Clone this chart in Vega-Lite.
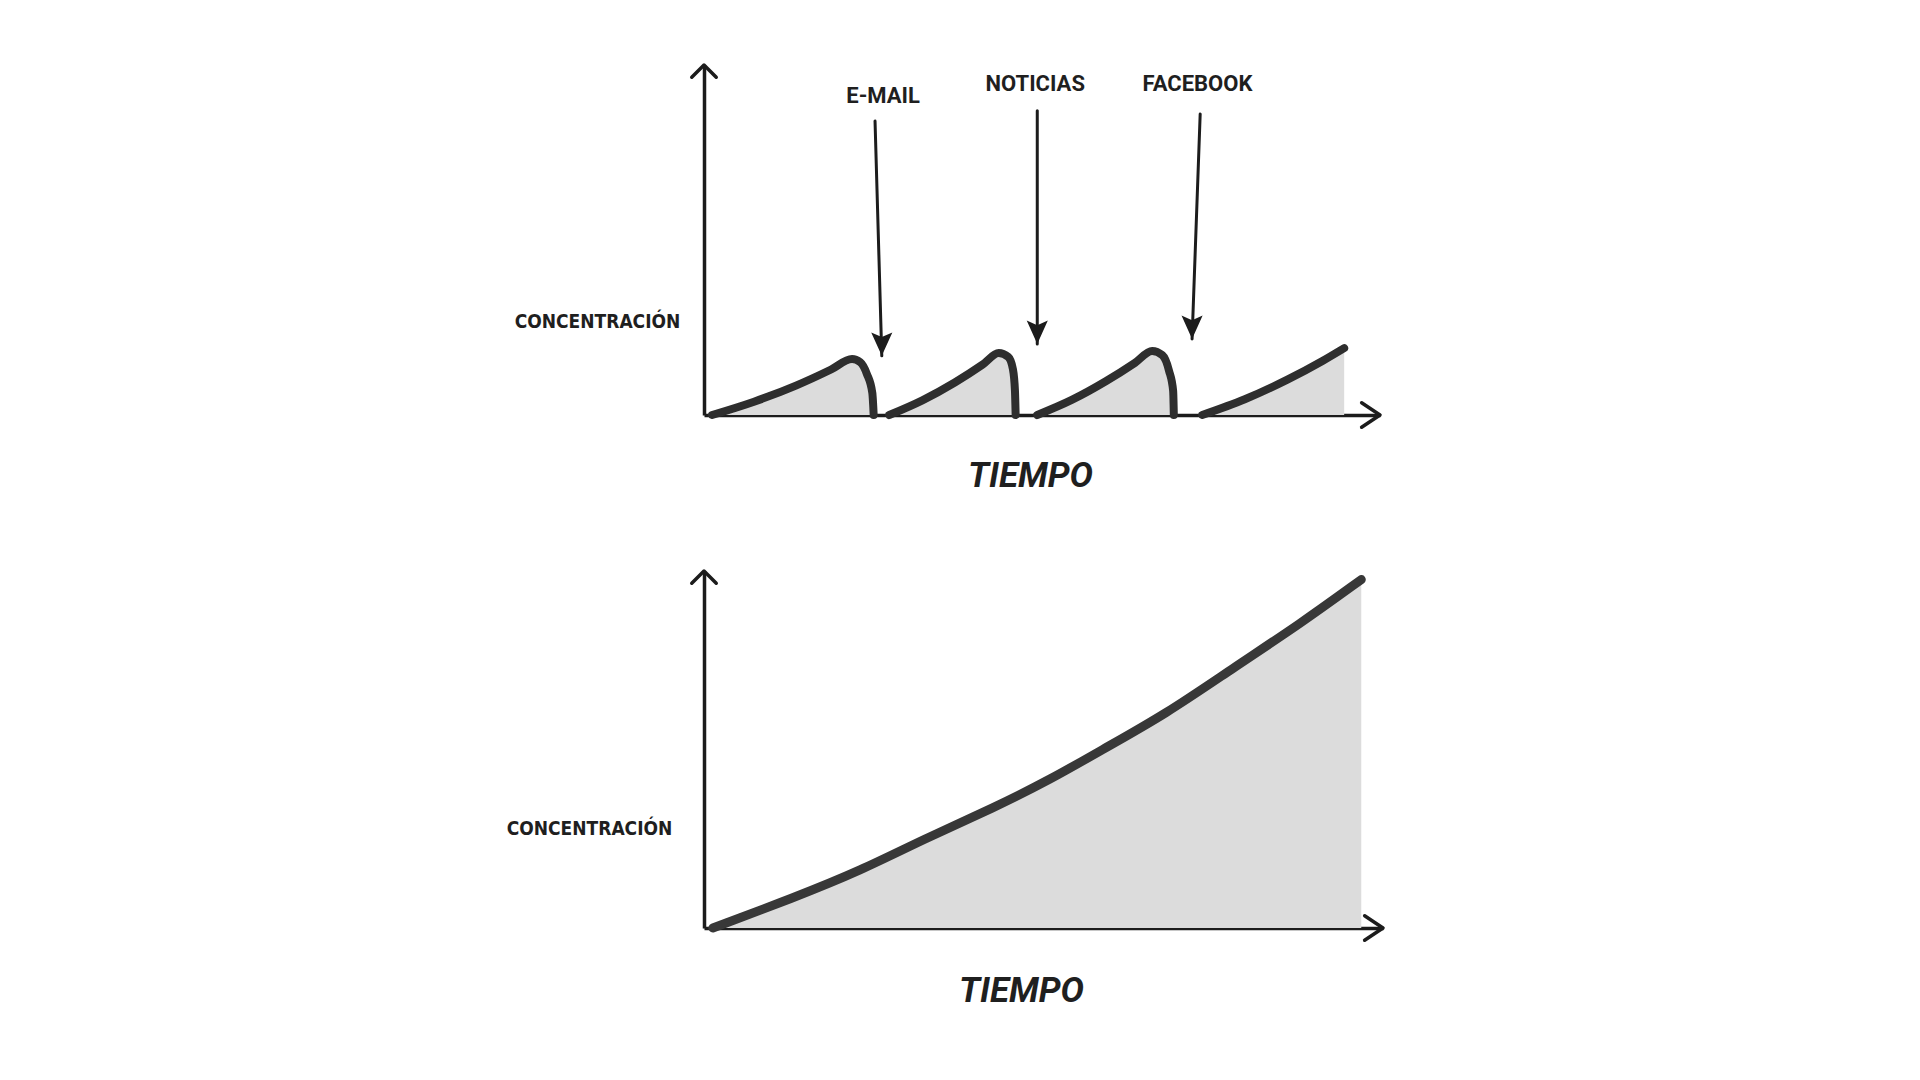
{
  "$schema": "https://vega.github.io/schema/vega-lite/v6.json",
  "background": "white",
  "padding": {"left": 506, "top": 63, "right": 5, "bottom": 5},
  "bounds": "flush",
  "spacing": 156,
  "config": {"view": {"stroke": null}},
  "datasets": {
    "dientes": [
      {"diente": 1, "t": 1.2, "c": 0}, {"diente": 1, "t": 7.4, "c": 3.8}, {"diente": 1, "t": 13.6, "c": 8.4}, {"diente": 1, "t": 18.8, "c": 13.0}, {"diente": 1, "t": 21.9, "c": 16.0}, {"diente": 1, "t": 23.1, "c": 15.1}, {"diente": 1, "t": 24.1, "c": 11.7}, {"diente": 1, "t": 24.9, "c": 6.3}, {"diente": 1, "t": 25.1, "c": 0},
      {"diente": 2, "t": 27.4, "c": 0}, {"diente": 2, "t": 32.3, "c": 4.2}, {"diente": 2, "t": 37.1, "c": 9.3}, {"diente": 2, "t": 41.2, "c": 14.4}, {"diente": 2, "t": 43.6, "c": 17.7}, {"diente": 2, "t": 45.0, "c": 16.6}, {"diente": 2, "t": 45.7, "c": 13.1}, {"diente": 2, "t": 46.0, "c": 6.9}, {"diente": 2, "t": 46.1, "c": 0},
      {"diente": 3, "t": 49.3, "c": 0}, {"diente": 3, "t": 54.4, "c": 4.3}, {"diente": 3, "t": 59.5, "c": 9.7}, {"diente": 3, "t": 63.75, "c": 14.9}, {"diente": 3, "t": 66.3, "c": 18.3}, {"diente": 3, "t": 67.8, "c": 17.1}, {"diente": 3, "t": 68.8, "c": 12.6}, {"diente": 3, "t": 69.4, "c": 6.9}, {"diente": 3, "t": 69.5, "c": 0},
      {"diente": 4, "t": 73.7, "c": 0}, {"diente": 4, "t": 80.0, "c": 4.5}, {"diente": 4, "t": 86.3, "c": 10.1}, {"diente": 4, "t": 91.55, "c": 15.5}, {"diente": 4, "t": 94.7, "c": 19.1}
    ],
    "flechas": [
      {"fuente": "E-MAIL", "t": 25.3, "c": 84.0, "t2": 26.3, "c2": 16.9, "tl": 26.5, "cl": 91.1},
      {"fuente": "NOTICIAS", "t": 49.3, "c": 86.9, "t2": 49.3, "c2": 20.3, "tl": 49.0, "cl": 94.6},
      {"fuente": "FACEBOOK", "t": 73.4, "c": 86.0, "t2": 72.2, "c2": 21.7, "tl": 73.0, "cl": 94.6}
    ],
    "ejes": [
      {"dir": "arriba", "t": 0, "c": 100},
      {"dir": "derecha", "t": 100, "c": 0}
    ],
    "curva": [
      {"t": 1.3, "c": 0}, {"t": 13.1, "c": 8.4}, {"t": 23.0, "c": 16.0}, {"t": 32.7, "c": 25.2}, {"t": 42.6, "c": 33.6}, {"t": 51.4, "c": 42.0}, {"t": 58.3, "c": 49.6}, {"t": 68.0, "c": 59.9}, {"t": 77.9, "c": 72.8}, {"t": 87.8, "c": 85.2}, {"t": 96.8, "c": 97.6}
    ]
  },
  "vconcat": [
    {
      "width": 676,
      "height": 350,
      "encoding": {
        "x": {"field": "t", "type": "quantitative", "scale": {"domain": [0, 100], "nice": false, "zero": false},
          "axis": {"title": "TIEMPO", "domain": true, "domainColor": "#1c1c1c", "domainWidth": 3.5, "ticks": false, "labels": false, "grid": false,
            "titleFont": "Roboto", "titleFontSize": 35, "titleFontWeight": "bold", "titleFontStyle": "italic", "titleColor": "#1f1f1f",
            "titleX": 326, "titleY": 60, "titleAlign": "center", "titleBaseline": "middle"}},
        "y": {"field": "c", "type": "quantitative", "stack": null, "scale": {"domain": [0, 100], "nice": false, "zero": false},
          "axis": {"title": "CONCENTRACIÓN", "domain": true, "domainColor": "#1c1c1c", "domainWidth": 3.5, "ticks": false, "labels": false, "grid": false,
            "titleFont": "DejaVu Sans Condensed, Liberation Sans Narrow, sans-serif", "titleFontSize": 19, "titleFontWeight": "bold", "titleColor": "#1f1f1f",
            "titleAngle": 0, "titleX": -107, "titleY": 256, "titleAlign": "center", "titleBaseline": "middle"}}
      },
      "layer": [
        {"data": {"name": "dientes"}, "mark": {"type": "area", "interpolate": "monotone", "color": "#dcdcdc", "opacity": 1},
          "encoding": {"detail": {"field": "diente", "type": "nominal"}}},
        {"data": {"name": "dientes"}, "mark": {"type": "line", "interpolate": "monotone", "color": "#2e2e2e", "strokeWidth": 8, "strokeCap": "round", "strokeJoin": "round"},
          "encoding": {"detail": {"field": "diente", "type": "nominal"}}},
        {"data": {"name": "flechas"}, "mark": {"type": "rule", "color": "#1c1c1c", "strokeWidth": 3, "strokeCap": "round"},
          "encoding": {"x2": {"field": "t2"}, "y2": {"field": "c2"}}},
        {"data": {"name": "flechas"}, "mark": {"type": "point", "filled": true, "opacity": 1, "color": "#1c1c1c", "shape": "M0,0L-0.45,-1L0,-0.8L0.45,-1Z", "size": 2200, "strokeWidth": 0},
          "encoding": {"x": {"field": "t2", "type": "quantitative"}, "y": {"field": "c2", "type": "quantitative"}}},
        {"data": {"name": "flechas"}, "mark": {"type": "text", "font": "Roboto", "fontSize": 22, "fontWeight": "bold", "color": "#1f1f1f", "align": "center", "baseline": "middle"},
          "encoding": {"x": {"field": "tl", "type": "quantitative"}, "y": {"field": "cl", "type": "quantitative"}, "text": {"field": "fuente"}}},
        {"data": {"name": "ejes"}, "mark": {"type": "point", "filled": false, "opacity": 1, "color": "#1c1c1c", "strokeWidth": 3.5, "strokeCap": "round", "strokeJoin": "round"},
          "encoding": {"shape": {"field": "dir", "type": "nominal", "legend": null, "scale": {"domain": ["arriba", "derecha"], "range": ["M-1,1L0,0L1,1", "M-1.5,-1L0,0L-1.5,1"]}}, "size": {"value": 600}}}
      ]
    },
    {
      "width": 679,
      "height": 357,
      "encoding": {
        "x": {"field": "t", "type": "quantitative", "scale": {"domain": [0, 100], "nice": false, "zero": false},
          "axis": {"title": "TIEMPO", "domain": true, "domainColor": "#1c1c1c", "domainWidth": 3.5, "ticks": false, "labels": false, "grid": false,
            "titleFont": "Roboto", "titleFontSize": 35, "titleFontWeight": "bold", "titleFontStyle": "italic", "titleColor": "#1f1f1f",
            "titleX": 317, "titleY": 62, "titleAlign": "center", "titleBaseline": "middle"}},
        "y": {"field": "c", "type": "quantitative", "stack": null, "scale": {"domain": [0, 100], "nice": false, "zero": false},
          "axis": {"title": "CONCENTRACIÓN", "domain": true, "domainColor": "#1c1c1c", "domainWidth": 3.5, "ticks": false, "labels": false, "grid": false,
            "titleFont": "DejaVu Sans Condensed, Liberation Sans Narrow, sans-serif", "titleFontSize": 19, "titleFontWeight": "bold", "titleColor": "#1f1f1f",
            "titleAngle": 0, "titleX": -115, "titleY": 257, "titleAlign": "center", "titleBaseline": "middle"}}
      },
      "layer": [
        {"data": {"name": "curva"}, "mark": {"type": "area", "interpolate": "basis", "color": "#dcdcdc", "opacity": 1}},
        {"data": {"name": "curva"}, "mark": {"type": "line", "interpolate": "basis", "color": "#383838", "strokeWidth": 9, "strokeCap": "round"}},
        {"data": {"name": "ejes"}, "mark": {"type": "point", "filled": false, "opacity": 1, "color": "#1c1c1c", "strokeWidth": 3.5, "strokeCap": "round", "strokeJoin": "round"},
          "encoding": {"shape": {"field": "dir", "type": "nominal", "legend": null, "scale": {"domain": ["arriba", "derecha"], "range": ["M-1,1L0,0L1,1", "M-1.5,-1L0,0L-1.5,1"]}}, "size": {"value": 600}}}
      ]
    }
  ]
}
